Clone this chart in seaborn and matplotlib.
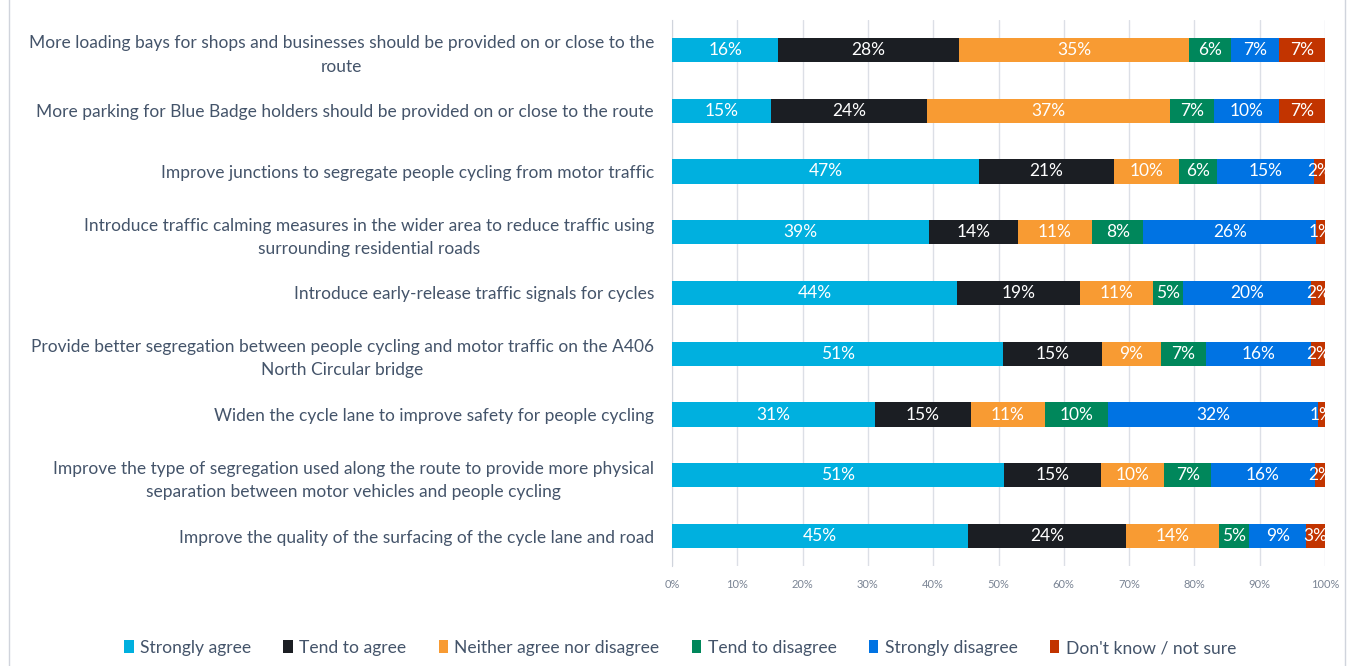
import numpy as np
import pandas as pd
import matplotlib
matplotlib.use("Agg")
import matplotlib.pyplot as plt
from matplotlib.patches import Patch, Rectangle
import seaborn as sns

statements = [
    "More loading bays for shops and businesses should be provided on or close to the\nroute",
    "More parking for Blue Badge holders should be provided on or close to the route",
    "Improve junctions to segregate people cycling from motor traffic",
    "Introduce traffic calming measures in the wider area to reduce traffic using\nsurrounding residential roads",
    "Introduce early-release traffic signals for cycles",
    "Provide better segregation between people cycling and motor traffic on the A406\nNorth Circular bridge",
    "Widen the cycle lane to improve safety for people cycling",
    "Improve the type of segregation used along the route to provide more physical\nseparation between motor vehicles and people cycling",
    "Improve the quality of the surfacing of the cycle lane and road",
]

responses = ["Strongly agree", "Tend to agree", "Neither agree nor disagree",
             "Tend to disagree", "Strongly disagree", "Don't know / not sure"]

strongly_agree    = [16.3, 15.2, 47.0, 39.3, 43.7, 50.7, 31.1, 50.9, 45.4]
tend_to_agree     = [27.6, 23.9, 20.7, 13.7, 18.8, 15.1, 14.7, 14.8, 24.2]
neither           = [35.3, 37.1, 10.0, 11.3, 11.2, 9.1, 11.3, 9.7, 14.2]
tend_to_disagree  = [6.4, 6.8, 5.7, 7.9, 4.6, 6.8, 9.7, 7.2, 4.6]
strongly_disagree = [7.4, 10.0, 14.9, 26.4, 19.6, 16.2, 32.1, 15.8, 8.7]
dont_know         = [7.0, 7.0, 1.7, 1.4, 2.1, 2.1, 1.1, 1.6, 2.9]

colors = ["#00B0DF", "#1B1E23", "#F89B33", "#00875B", "#0073E3", "#C23400"]

series = [strongly_agree, tend_to_agree, neither, tend_to_disagree,
          strongly_disagree, dont_know]

df = pd.DataFrame(dict(zip(responses, series)), index=statements)
cum = df.cumsum(axis=1)

sns.set_style("white")
plt.rcParams["font.family"] = ["Lato", "DejaVu Sans"]

text_col = "#44546A"

fig = plt.figure(figsize=(13.52, 6.66), dpi=100)
ax = fig.add_axes([672 / 1352, 1 - 566.4 / 666, (1325 - 672) / 1352, (566.4 - 19.6) / 666])

# Stacked bars: draw cumulative totals from the last response back to the first
for resp, col in reversed(list(zip(responses, colors))):
    sns.barplot(x=cum[resp].values, y=statements, order=statements, orient="h",
                color=col, width=0.4, linewidth=0, saturation=1, ax=ax, zorder=3)

# Segment value labels
for i, stmt in enumerate(statements):
    for resp in responses:
        v = df.loc[stmt, resp]
        centre = cum.loc[stmt, resp] - v / 2
        ax.text(centre, i, f"{v:.0f}%", ha="center", va="center",
                color="white", fontsize=12.5, zorder=4)

ax.set_xlim(0, 100)
ax.set_xticks(np.arange(0, 101, 10))
ax.set_xticklabels([f"{t}%" for t in range(0, 101, 10)], fontsize=8, color="#7A8494")
ax.grid(axis="x", color="#DCDFE6", linewidth=1, zorder=0)
ax.set_axisbelow(True)
for s in ["top", "right", "bottom"]:
    ax.spines[s].set_visible(False)
ax.spines["left"].set_color("#D0D4DC")
ax.tick_params(axis="x", length=0, pad=9)
ax.tick_params(axis="y", length=0, pad=13)
ax.set_xlabel("")
ax.set_ylabel("")
for lbl in ax.get_yticklabels():
    lbl.set_fontsize(12.5)
    lbl.set_color(text_col)
    lbl.set_multialignment("center")
    lbl.set_linespacing(1.55)

handles = [Patch(facecolor=c, edgecolor="none") for c in colors]
leg = fig.legend(handles, responses, loc="center", bbox_to_anchor=(0.503, 1 - 648 / 666),
                 ncol=6, frameon=False, fontsize=12.6, handlelength=0.55, handleheight=0.75,
                 handletextpad=0.35, columnspacing=1.85)
for t in leg.get_texts():
    t.set_color(text_col)

# Outer frame
fig.patches.append(Rectangle((9 / 1352, -0.05), (1345 - 9) / 1352, 1.1,
                             transform=fig.transFigure, fill=False,
                             edgecolor="#D0D4DC", linewidth=1))

fig.savefig("out.png", dpi=100)
